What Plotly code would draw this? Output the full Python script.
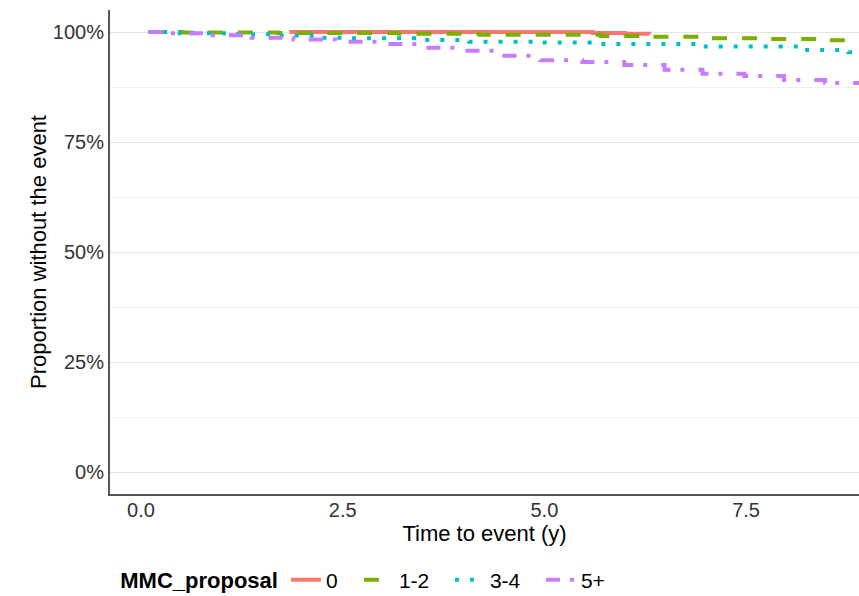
import plotly.graph_objects as go

# Data: Kaplan-Meier style step curves
groups = ["0", "1-2", "3-4", "5+"]

time_0 = [1.84, 5.6, 6.0, 6.3]
surv_0 = [1.000, 0.998, 0.996, 0.995]

time_12 = [0.09, 0.5, 1.7, 3.2, 4.2, 5.7, 6.3, 7.0, 7.8, 8.5, 9.0]
surv_12 = [1.000, 0.999, 0.998, 0.996, 0.994, 0.991, 0.989, 0.986, 0.984, 0.981, 0.979]

time_34 = [0.09, 0.48, 1.1, 1.63, 2.18, 2.59, 3.45, 4.07, 4.9, 5.68, 6.92, 8.16, 8.77, 9.0]
surv_34 = [1.000, 0.997, 0.995, 0.992, 0.987, 0.986, 0.982, 0.978, 0.976, 0.973, 0.967, 0.959, 0.954, 0.954]

time_5p = [0.09, 0.36, 0.85, 1.37, 1.89, 2.41, 2.93, 3.44, 3.95, 4.44, 4.95, 5.47,
           5.99, 6.49, 6.96, 7.48, 7.97, 8.48, 9.0]
surv_5p = [1.000, 0.997, 0.9925, 0.987, 0.983, 0.978, 0.973, 0.964, 0.9575, 0.946,
           0.936, 0.932, 0.925, 0.914, 0.905, 0.900, 0.891, 0.884, 0.882]

x_ticks = [0.0, 2.5, 5.0, 7.5]
x_tick_labels = ["0.0", "2.5", "5.0", "7.5"]
y_ticks = [0, 0.25, 0.5, 0.75, 1.0]
y_tick_labels = ["0%", "25%", "50%", "75%", "100%"]

colors = ["#F8766D", "#7CAE00", "#00BFC4", "#C77CFF"]
dashes = ["solid", "15px,15px", "4px,11px", "14px,10px,4px,14px"]
legend_widths = [28, 46, 46, 30]
series = [(time_0, surv_0), (time_12, surv_12), (time_34, surv_34), (time_5p, surv_5p)]

fig = go.Figure()
for name, (t, s), c, d, lw in zip(groups, series, colors, dashes, legend_widths):
    fig.add_trace(go.Scatter(
        x=t, y=s, name=name, mode="lines",
        line=dict(color=c, width=4, dash=d, shape="hv"),
        legendwidth=lw,
    ))

fig.update_layout(
    width=859, height=596,
    margin=dict(l=110, r=0, t=10, b=102, autoexpand=False),
    plot_bgcolor="white", paper_bgcolor="white",
    font=dict(family="Liberation Sans, Arial, sans-serif", color="black"),
    showlegend=True,
    legend=dict(
        orientation="h", x=0.011, xanchor="left", y=-0.178, yanchor="middle",
        title=dict(text="<b>MMC_proposal</b>", font=dict(size=22, color="black"), side="left"),
        font=dict(size=21, color="black"),
        itemwidth=30,
    ),
)
fig.update_xaxes(
    range=[-0.384, 8.90],
    tickvals=x_ticks, ticktext=x_tick_labels,
    tickfont=dict(size=20, color="#333333"),
    showgrid=False, zeroline=False, automargin=False,
    showline=True, linecolor="#555555", linewidth=2,
    ticks="", ticklen=0, ticklabelstandoff=-3,
    title=dict(text="Time to event (y)", font=dict(size=22, color="black"), standoff=2),
)
fig.update_yaxes(
    range=[-0.05, 1.05],
    tickvals=y_ticks, ticktext=y_tick_labels,
    tickfont=dict(size=20, color="#333333"),
    showgrid=True, gridcolor="#E5E5E5", gridwidth=1,
    minor=dict(tickvals=[0.125, 0.375, 0.625, 0.875], showgrid=True, gridcolor="#F0F0F0", gridwidth=1),
    zeroline=False, automargin=False,
    showline=True, linecolor="#555555", linewidth=2,
    ticks="", ticklen=0,
    title=dict(text="Proportion without the event", font=dict(size=22, color="black"), standoff=0),
)

fig.write_html("out.html", config={"displayModeBar": False},
               post_script="document.body.style.margin='0px';")
